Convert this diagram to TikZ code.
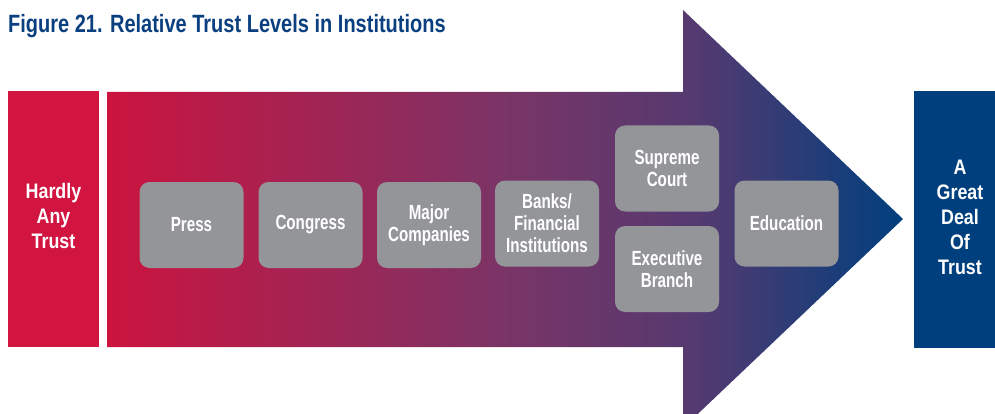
\documentclass[tikz,border=0pt]{standalone}
\usepackage{fontspec}
\newfontfamily\condfont{Liberation Sans}[FakeStretch=0.74]
\newfontfamily\endfont{Liberation Sans}[FakeStretch=0.85]
\newfontfamily\titlefont{Liberation Sans}[FakeStretch=0.80]
\definecolor{crimson}{RGB}{210,20,65}
\definecolor{navy}{RGB}{0,63,125}
\definecolor{titleblue}{RGB}{10,63,128}
\definecolor{boxgray}{RGB}{147,149,152}
\definecolor{midpurple}{RGB}{122,52,102}
\definecolor{lateviolet}{RGB}{84,58,112}
\pgfdeclarehorizontalshading{trustshade}{100bp}{
  color(0bp)=(crimson!97!black);
  color(25bp)=(crimson!97!black);
  color(50bp)=(midpurple);
  color(62bp)=(lateviolet);
  color(75bp)=(navy);
  color(100bp)=(navy)}
\tikzset{
  inst/.style={fill=boxgray, rounded corners=10pt, minimum width=104pt, minimum height=86pt,
    inner sep=0pt, text=white, align=center,
    font=\condfont\bfseries\fontsize{20.5}{22}\selectfont},
  endlabel/.style={text=white, align=center, inner sep=0pt,
    font=\endfont\bfseries\fontsize{21}{25}\selectfont}
}
\begin{document}
\begin{tikzpicture}[x=1pt,y=1pt]
\clip (0,0) rectangle (995,413);
\fill[white] (0,0) rectangle (995,413);
% title
\node[anchor=base west, inner sep=0pt, text=titleblue,
  font=\titlefont\bfseries\fontsize{25}{28}\selectfont] (title) at (8,380)
  {Figure 21. Relative Trust Levels in Institutions};
% left box
\fill[crimson] (8,66) rectangle (99,322);
\node[endlabel] (low) at (53.5,197) {Hardly\\Any\\Trust};
% right box
\fill[navy] (914,65) rectangle (1010,322);
\node[endlabel] (high) at (960,196) {A\\Great\\Deal\\Of\\Trust};
% arrow
\shade[shading=trustshade] (107,321) -- (683,321) -- (683,403) -- (903,194)
  -- (683,-15) -- (683,66) -- (107,66) -- cycle;
% institutions
\node[inst] (press) at (191.5,188) {Press};
\node[inst] (congress) at (310.5,188) {Congress};
\node[inst] (companies) at (429,188) {Major\\Companies};
\node[inst] (banks) at (547,189.5) {Banks/\\Financial\\Institutions};
\node[inst] (court) at (667,244.5) {Supreme\\Court};
\node[inst] (exec) at (667,144) {Executive\\Branch};
\node[inst] (edu) at (786.5,189.5) {Education};
\end{tikzpicture}
\end{document}
